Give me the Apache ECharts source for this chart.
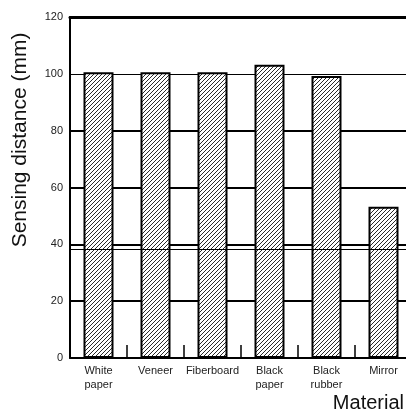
<!DOCTYPE html>
<html>
<head>
<meta charset="utf-8">
<script src="https://cdn.jsdelivr.net/npm/echarts@6/dist/echarts.min.js"></script>
<style>
html,body{margin:0;padding:0;background:#fff;}
#c{width:406px;height:417px;}
</style>
</head>
<body>
<div id="c"></div>
<script>
const categories = ['White\npaper', 'Veneer', 'Fiberboard', 'Black\npaper', 'Black\nrubber', 'Mirror'];
const distances = [100.6, 100.6, 100.6, 103.2, 99.2, 53.2];
const yTicks = [0, 20, 40, 60, 80, 100, 120];
const crossLineValue = 38.3;
const xTitle = 'Material';
const yTitle = 'Sensing distance (mm)';

function hatch() {
  const c = document.createElement('canvas');
  c.width = 4; c.height = 4;
  const g = c.getContext('2d');
  g.fillStyle = '#ffffff';
  g.fillRect(0, 0, 4, 4);
  g.strokeStyle = '#2a2a2a';
  g.lineWidth = 1;
  g.beginPath();
  g.moveTo(-1, 5); g.lineTo(5, -1);
  g.moveTo(-1, 1); g.lineTo(1, -1);
  g.moveTo(3, 5); g.lineTo(5, 3);
  g.stroke();
  return c;
}

const FONT = 'Liberation Sans, Arial, sans-serif';
const chart = echarts.init(document.getElementById('c'), null, {renderer: 'canvas'});
const thickColors = yTicks.map(v => (v >= 20 && v <= 80) ? '#000' : 'rgba(0,0,0,0)');
const thinColors = yTicks.map(v => v === 100 ? '#000' : 'rgba(0,0,0,0)');
chart.setOption({
  animation: false,
  backgroundColor: '#fff',
  grid: {left: 70, top: 17, bottom: 59, right: -6, containLabel: false, outerBoundsMode: 'none'},
  graphic: [{
    type: 'text',
    right: 2,
    top: 393,
    style: {text: xTitle, font: '20px ' + FONT, fill: '#111'}
  }],
  xAxis: [{
    type: 'category',
    data: categories,
    axisLine: {onZero: false, lineStyle: {color: '#000', width: 2}},
    axisTick: {show: true, inside: true, length: 13, lineStyle: {color: '#000', width: 1.5}},
    axisLabel: {color: '#222', fontFamily: FONT, fontSize: 11, lineHeight: 14, margin: 6, interval: 0}
  }, {
    type: 'category',
    position: 'top',
    data: categories,
    axisLine: {show: true, onZero: false, lineStyle: {color: '#000', width: 3}},
    axisTick: {show: false},
    axisLabel: {show: false}
  }],
  yAxis: [{
    type: 'value',
    min: 0, max: 120, interval: 20,
    axisLine: {show: true, onZero: false, lineStyle: {color: '#000', width: 2}},
    axisTick: {show: false},
    axisLabel: {color: '#222', fontFamily: FONT, fontSize: 11, margin: 7},
    splitLine: {show: true, lineStyle: {color: thickColors, width: 2}},
    name: yTitle,
    nameLocation: 'middle',
    nameGap: 39,
    nameTextStyle: {fontFamily: FONT, fontSize: 21, color: '#111', padding: [0, 0, 0, 95]}
  }, {
    type: 'value',
    min: 0, max: 120, interval: 20,
    position: 'left',
    axisLine: {show: false},
    axisTick: {show: false},
    axisLabel: {show: false},
    splitLine: {show: true, lineStyle: {color: thinColors, width: 1}}
  }],
  series: [{
    type: 'bar',
    data: distances,
    barWidth: 30,
    itemStyle: {
      color: {image: hatch(), repeat: 'repeat'},
      borderColor: '#000',
      borderWidth: 2
    },
    markLine: {
      silent: true,
      symbol: ['none', 'none'],
      label: {show: false},
      lineStyle: {color: '#000', width: 1, type: 'solid'},
      data: [{yAxis: crossLineValue}]
    }
  }]
});
</script>
</body>
</html>
